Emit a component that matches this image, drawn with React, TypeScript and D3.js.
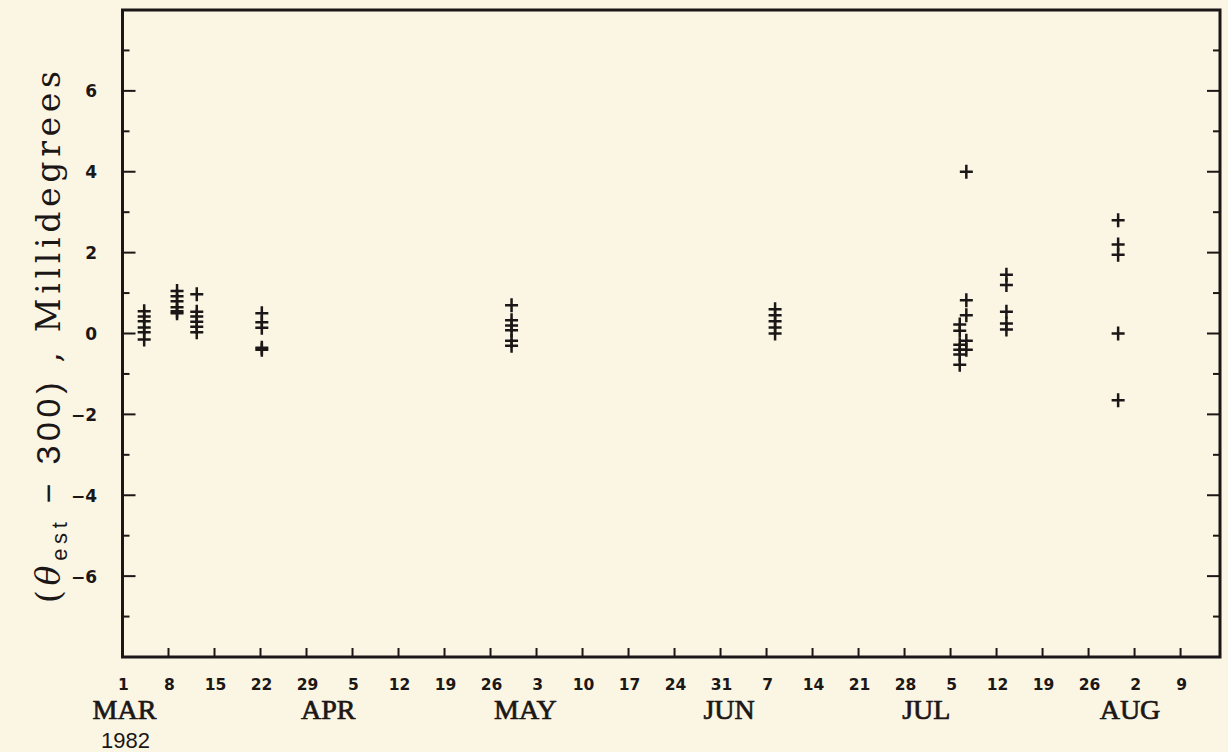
import React from "react";
import * as d3 from "d3";

// Days counted from 1 March 1982 (day 0)
const clusterDays = [3.3, 8.3, 11.3, 21.2, 59.2, 99.3, 127.4, 128.4, 134.5, 151.5];
const clusterValues = [
  [0.55, 0.42, 0.3, 0.15, 0.03, -0.15],
  [1.05, 0.92, 0.8, 0.65, 0.55, 0.5],
  [0.97, 0.54, 0.42, 0.29, 0.17, 0.03],
  [0.5, 0.28, 0.14, -0.35, -0.4],
  [0.7, 0.33, 0.2, 0.08, -0.18, -0.3],
  [0.6, 0.45, 0.3, 0.15, 0.0],
  [0.22, 0.07, -0.28, -0.4, -0.52, -0.77],
  [4.0, 0.82, 0.45, -0.18, -0.4],
  [1.45, 1.2, 0.54, 0.25, 0.1],
  [2.8, 2.2, 1.95, 0.0, -1.65],
];

const weekTickDays = d3.range(0, 162, 7);
const weekTickLabels = ["1", "8", "15", "22", "29", "5", "12", "19", "26", "3", "10", "17", "24", "31", "7", "14", "21", "28", "5", "12", "19", "26", "2", "9"];
const monthLabels = ["MAR", "APR", "MAY", "JUN", "JUL", "AUG"];
const monthDays = [0, 31, 61, 92, 122, 153];
const yearLabel = "1982";
const yMajorTicks = [-6, -4, -2, 0, 2, 4, 6];
const yMinorTicks = [-7, -5, -3, -1, 1, 3, 5, 7];

const W = 1228;
const H = 752;
const left = 122.5;
const right = 1220;
const top = 10;
const bottom = 657;
const ink = "#1b1716";

export default function App() {
  const x = d3.scaleLinear().domain([0, 167]).range([left, right]);
  const y = d3.scaleLinear().domain([-8, 8]).range([bottom, top]);

  const points = clusterDays.flatMap((d, i) => clusterValues[i].map((v) => ({ d, v })));

  return (
    <div style={{ position: "absolute", left: 0, top: 0 }}>
      <svg width={W} height={H} style={{ display: "block" }}>
        <rect x={0} y={0} width={W} height={H} fill="#fbf5e4" />
        {/* frame */}
        <rect x={left} y={top} width={right - left} height={bottom - top} fill="none" stroke={ink} strokeWidth={3} />
        {/* bottom ticks */}
        {weekTickDays.slice(1).map((d) => (
          <line key={"xt" + d} x1={x(d)} x2={x(d)} y1={bottom} y2={bottom - 9} stroke={ink} strokeWidth={2} />
        ))}
        {/* y ticks left & right */}
        {yMajorTicks.map((v) => (
          <g key={"ym" + v}>
            <line x1={left} x2={left + 13} y1={y(v)} y2={y(v)} stroke={ink} strokeWidth={2} />
            <line x1={right} x2={right - 13} y1={y(v)} y2={y(v)} stroke={ink} strokeWidth={2} />
          </g>
        ))}
        {yMinorTicks.map((v) => (
          <g key={"yn" + v}>
            <line x1={left} x2={left + 7} y1={y(v)} y2={y(v)} stroke={ink} strokeWidth={2} />
            <line x1={right} x2={right - 7} y1={y(v)} y2={y(v)} stroke={ink} strokeWidth={2} />
          </g>
        ))}
        {/* y tick labels */}
        {yMajorTicks.map((v) => (
          <text key={"yl" + v} x={97} y={y(v) + 6.5} textAnchor="end" fontFamily="DejaVu Sans, sans-serif" fontWeight="bold" fontSize={17} fill={ink}>
            {v < 0 ? "\u2212" + Math.abs(v) : String(v)}
          </text>
        ))}
        {/* x tick labels */}
        {weekTickDays.map((d, i) => (
          <text key={"xl" + d} x={x(d) + 1} y={690} textAnchor="middle" fontFamily="DejaVu Sans, sans-serif" fontWeight="bold" fontSize={15.5} fill={ink}>
            {weekTickLabels[i]}
          </text>
        ))}
        {monthLabels.map((m, i) => (
          <text key={m} x={x(monthDays[i]) + 2} y={719} textAnchor="middle" fontFamily="Liberation Serif, Times New Roman, serif" fontSize={28} fill={ink} stroke={ink} strokeWidth={0.7}>
            {m}
          </text>
        ))}
        <text x={x(0) + 3} y={748} textAnchor="middle" fontFamily="Liberation Sans, Arial, sans-serif" fontSize={22} fill={ink}>
          {yearLabel}
        </text>
        {/* y axis title */}
        <text transform={`translate(60, ${337}) rotate(-90)`} textAnchor="middle" fontSize={33} fill={ink} textLength={532} lengthAdjust="spacing">
          <tspan fontFamily="DejaVu Serif, serif">(</tspan>
          <tspan fontFamily="DejaVu Serif, serif" fontStyle="italic">θ</tspan>
          <tspan fontFamily="Liberation Sans, Arial, sans-serif" fontSize={22} dy={7}>est</tspan>
          <tspan fontFamily="Liberation Sans, Arial, sans-serif" fontSize={34} dy={-7}>{" \u2212 300)"}</tspan>
          <tspan fontFamily="DejaVu Serif, serif">{" ,  Millidegrees"}</tspan>
        </text>
        {/* data */}
        {points.map((p, i) => (
          <path key={"p" + i} d={`M${x(p.d) - 6.5},${y(p.v)}H${x(p.d) + 6.5}M${x(p.d)},${y(p.v) - 7}V${y(p.v) + 7}`} stroke={ink} strokeWidth={2.5} fill="none" />
        ))}
      </svg>
    </div>
  );
}
